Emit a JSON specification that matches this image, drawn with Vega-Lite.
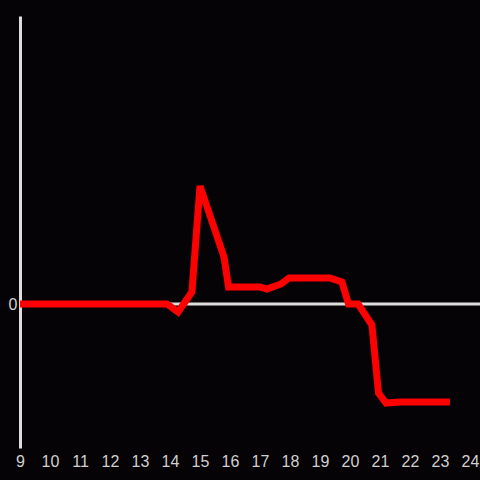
{
  "$schema": "https://vega.github.io/schema/vega-lite/v6.json",
  "width": 460,
  "height": 432,
  "autosize": {"type": "none"},
  "padding": {"left": 20, "top": 16, "right": 0, "bottom": 32},
  "background": "#060307",
  "config": {
    "view": {"stroke": null},
    "axis": {"labelFont": "Liberation Sans", "labelFontSize": 16, "labelColor": "#d0d0d0", "grid": false, "ticks": false}
  },
  "datasets": {
    "series": [
      {"hour": 9, "value": 0},
      {"hour": 13.9, "value": 0},
      {"hour": 14.27, "value": -8},
      {"hour": 14.73, "value": 12},
      {"hour": 15.0, "value": 118},
      {"hour": 15.8, "value": 47},
      {"hour": 15.95, "value": 17},
      {"hour": 17.0, "value": 17},
      {"hour": 17.23, "value": 15},
      {"hour": 17.7, "value": 20},
      {"hour": 17.97, "value": 26},
      {"hour": 19.33, "value": 26},
      {"hour": 19.73, "value": 22},
      {"hour": 19.95, "value": 0},
      {"hour": 20.27, "value": 0},
      {"hour": 20.73, "value": -21},
      {"hour": 20.95, "value": -89},
      {"hour": 21.2, "value": -99},
      {"hour": 21.67, "value": -98},
      {"hour": 23.33, "value": -98}
    ],
    "zero": [{"value": 0}]
  },
  "layer": [
    {
      "data": {"name": "zero"},
      "mark": {"type": "rule", "color": "#dddddd", "strokeWidth": 3},
      "encoding": {"y": {"field": "value", "type": "quantitative", "scale": {"domain": [-144, 288]}}}
    },
    {
      "data": {"name": "series"},
      "mark": {"type": "line", "color": "#ff0000", "strokeWidth": 7, "strokeJoin": "miter", "strokeCap": "butt"},
      "encoding": {
        "x": {"field": "hour", "type": "quantitative", "scale": {"domain": [9, 24.333], "nice": false, "zero": false},
              "axis": {"title": null, "values": [9,10,11,12,13,14,15,16,17,18,19,20,21,22,23,24], "domain": false, "labelPadding": 5, "labelFlush": false, "labelOverlap": false}},
        "y": {"field": "value", "type": "quantitative", "scale": {"domain": [-144, 288], "nice": false, "zero": false},
              "axis": {"title": null, "values": [0], "domain": true, "domainColor": "#dddddd", "domainWidth": 3, "labelPadding": 3}}
      }
    }
  ]
}
